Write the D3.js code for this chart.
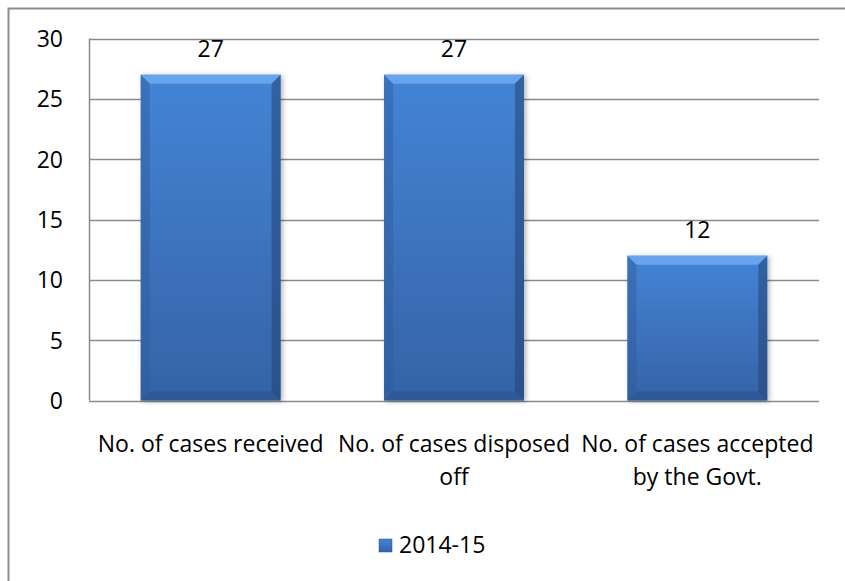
<!DOCTYPE html>
<html>
<head>
<meta charset="utf-8">
<script src="https://cdn.jsdelivr.net/npm/d3@7"></script>
<style>
  body { margin: 0; background: #fff; }
  text { font-family: "Open Sans", "Noto Sans", sans-serif; fill: #000; }
</style>
</head>
<body>
<div id="chart"></div>
<script>
"use strict";

// data
var categories = [
  ["No. of cases received"],
  ["No. of cases disposed", "off"],
  ["No. of cases accepted", "by the Govt."]
];
var values = [27, 27, 12];
var seriesName = "2014-15";
var yTicks = [0, 5, 10, 15, 20, 25, 30];

var width = 845, height = 581;
var plot = { left: 89, right: 819, top: 38.5, bottom: 400.5 };

var svg = d3.select("#chart").append("svg")
  .attr("width", width)
  .attr("height", height);

var defs = svg.append("defs");

// bar fill
var grad = defs.append("linearGradient")
  .attr("id", "barFill")
  .attr("x1", 0).attr("y1", 0).attr("x2", 0).attr("y2", 1);
grad.append("stop").attr("offset", "0%").attr("stop-color", "#4484d6");
grad.append("stop").attr("offset", "100%").attr("stop-color", "#3563a6");

var shadow = defs.append("filter").attr("id", "shadow")
  .attr("x", "-10%").attr("y", "-10%").attr("width", "130%").attr("height", "130%");
shadow.append("feDropShadow")
  .attr("dx", 2).attr("dy", 1).attr("stdDeviation", 2.5)
  .attr("flood-color", "#000").attr("flood-opacity", 0.3);

// outer chart border (runs off the right and bottom)
svg.append("rect")
  .attr("x", 8.5).attr("y", 8.5)
  .attr("width", 860).attr("height", 600)
  .attr("fill", "none")
  .attr("stroke", "#8c8c8c")
  .attr("stroke-width", 2);

var x = d3.scaleBand()
  .domain(d3.range(categories.length))
  .range([plot.left, plot.right])
  .paddingInner(0.425)
  .paddingOuter(0.2125);

var y = d3.scaleLinear()
  .domain([0, 30])
  .range([plot.bottom, plot.top]);

// gridlines
svg.append("g")
  .selectAll("line")
  .data(yTicks)
  .enter()
  .append("line")
  .attr("x1", plot.left)
  .attr("x2", plot.right)
  .attr("y1", d => Math.round(y(d)) + 0.5)
  .attr("y2", d => Math.round(y(d)) + 0.5)
  .attr("stroke", "#8a8a8a")
  .attr("stroke-width", 1.5);

// y axis line
svg.append("line")
  .attr("x1", plot.left + 0.5).attr("x2", plot.left + 0.5)
  .attr("y1", y(30)).attr("y2", y(0))
  .attr("stroke", "#8a8a8a")
  .attr("stroke-width", 1.5);

// y tick labels
svg.append("g")
  .selectAll("text")
  .data(yTicks)
  .enter()
  .append("text")
  .attr("x", 63)
  .attr("y", d => y(d) + 8.5)
  .attr("text-anchor", "end")
  .style("font-size", "23px")
  .text(d => d);

// bars
var bw = x.bandwidth();
var bev = 9;
var bars = svg.append("g")
  .selectAll("g")
  .data(values)
  .enter()
  .append("g")
  .attr("transform", (d, i) => "translate(" + x(i) + "," + y(d) + ")");

bars.append("rect")
  .attr("width", bw)
  .attr("height", d => y(0) - y(d))
  .attr("fill", "url(#barFill)")
  .attr("filter", "url(#shadow)");

// bevel edges
bars.append("path")
  .attr("d", "M0,0 L" + bw + ",0 L" + (bw - bev) + "," + bev + " L" + bev + "," + bev + "Z")
  .attr("fill", "#6eaaf0")
  .attr("opacity", 0.85);
bars.append("path")
  .attr("d", d => {
    var h = y(0) - y(d);
    return "M0," + h + " L" + bw + "," + h + " L" + (bw - bev) + "," + (h - bev) + " L" + bev + "," + (h - bev) + "Z";
  })
  .attr("fill", "#2b528a")
  .attr("opacity", 0.6);
bars.append("path")
  .attr("d", d => {
    var h = y(0) - y(d);
    return "M0,0 L" + bev + "," + bev + " L" + bev + "," + (h - bev) + " L0," + h + "Z";
  })
  .attr("fill", "#2f5c9c")
  .attr("opacity", 0.45);
bars.append("path")
  .attr("d", d => {
    var h = y(0) - y(d);
    return "M" + bw + ",0 L" + (bw - bev) + "," + bev + " L" + (bw - bev) + "," + (h - bev) + " L" + bw + "," + h + "Z";
  })
  .attr("fill", "#1f3f6e")
  .attr("opacity", 0.5);

// value labels
svg.append("g")
  .selectAll("text")
  .data(values)
  .enter()
  .append("text")
  .attr("x", (d, i) => x(i) + bw / 2)
  .attr("y", d => y(d) - 18)
  .attr("text-anchor", "middle")
  .style("font-size", "23px")
  .text(d => d);

// category labels
var cat = svg.append("g")
  .selectAll("text")
  .data(categories)
  .enter()
  .append("text")
  .attr("x", (d, i) => x(i) + bw / 2)
  .attr("y", 452)
  .attr("text-anchor", "middle")
  .style("font-size", "23px");
cat.selectAll("tspan")
  .data(d => d)
  .enter()
  .append("tspan")
  .attr("x", function() { return d3.select(this.parentNode).attr("x"); })
  .attr("dy", (d, i) => i === 0 ? 0 : 33)
  .text(d => d);

// legend
var legend = svg.append("g").attr("transform", "translate(379,539)");
legend.append("rect")
  .attr("width", 13).attr("height", 13)
  .attr("fill", "url(#barFill)")
  .attr("stroke", "#2b528a")
  .attr("stroke-width", 0.5);
legend.append("text")
  .attr("x", 20)
  .attr("y", 14)
  .style("font-size", "23px")
  .text(seriesName);
</script>
</body>
</html>
